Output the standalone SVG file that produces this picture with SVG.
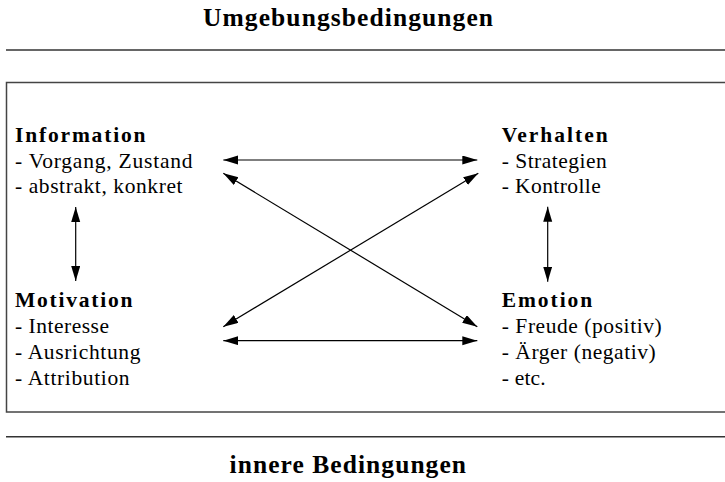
<svg xmlns="http://www.w3.org/2000/svg" width="725" height="482" viewBox="0 0 725 482">
  <style>
    text { font-family: "Liberation Serif", "Times New Roman", serif; fill: #000; }
    .title { font-size: 25.5px; font-weight: bold; }
    .head { font-size: 21.5px; font-weight: bold; }
    .item { font-size: 21.5px; }
    .rule { stroke: #333; stroke-width: 1.5; fill: none; }
    .frame { stroke: #444; stroke-width: 1.5; fill: none; }
    .link { stroke: #000; stroke-width: 1.2; fill: none; marker-start: url(#head); marker-end: url(#head); }
  </style>
  <defs>
    <marker id="head" markerUnits="userSpaceOnUse" markerWidth="16" markerHeight="10" refX="15" refY="4.5" orient="auto-start-reverse">
      <path d="M0,0 L15,4.5 L0,9 Z" fill="#000"/>
    </marker>
  </defs>
  <rect width="725" height="482" fill="#fff"/>

  <!-- outer conditions and framing -->
  <g id="frame">
    <text class="title" x="203" y="26" textLength="290" lengthAdjust="spacing">Umgebungsbedingungen</text>
    <line class="rule" x1="6" y1="50" x2="725" y2="50"/>
    <rect class="frame" x="6.5" y="82.5" width="730" height="329.5"/>
    <line class="rule" x1="6" y1="436.7" x2="725" y2="436.7"/>
    <text class="title" x="229.5" y="473" textLength="236.5" lengthAdjust="spacing">innere Bedingungen</text>
  </g>

  <g id="information">
    <text class="head" x="15" y="142" textLength="130.5" lengthAdjust="spacing">Information</text>
    <text class="item" x="15" y="167.5" textLength="177.5" lengthAdjust="spacing">- Vorgang, Zustand</text>
    <text class="item" x="15" y="193" textLength="167.5" lengthAdjust="spacing">- abstrakt, konkret</text>
  </g>

  <g id="verhalten">
    <text class="head" x="501.7" y="142" textLength="106" lengthAdjust="spacing">Verhalten</text>
    <text class="item" x="501.7" y="167.5" textLength="105" lengthAdjust="spacing">- Strategien</text>
    <text class="item" x="501.7" y="193" textLength="99" lengthAdjust="spacing">- Kontrolle</text>
  </g>

  <g id="motivation">
    <text class="head" x="15" y="307" textLength="117.5" lengthAdjust="spacing">Motivation</text>
    <text class="item" x="15" y="333" textLength="94" lengthAdjust="spacing">- Interesse</text>
    <text class="item" x="15" y="359" textLength="125.5" lengthAdjust="spacing">- Ausrichtung</text>
    <text class="item" x="15" y="385" textLength="114.5" lengthAdjust="spacing">- Attribution</text>
  </g>

  <g id="emotion">
    <text class="head" x="501.7" y="307" textLength="90.5" lengthAdjust="spacing">Emotion</text>
    <text class="item" x="501.7" y="333" textLength="160" lengthAdjust="spacing">- Freude (positiv)</text>
    <text class="item" x="501.7" y="359" textLength="154" lengthAdjust="spacing">- Ärger (negativ)</text>
    <text class="item" x="501.7" y="385" textLength="44" lengthAdjust="spacing">- etc.</text>
  </g>

  <!-- bidirectional relations -->
  <g id="connectors">
    <line class="link" x1="223.3" y1="160" x2="477.3" y2="160"/>
    <line class="link" x1="223.3" y1="340.7" x2="477.3" y2="340.7"/>
    <line class="link" x1="223.3" y1="173.3" x2="477.3" y2="326.7"/>
    <line class="link" x1="223.3" y1="326.7" x2="478.3" y2="173.3"/>
    <line class="link" x1="75.7" y1="207" x2="75.7" y2="281"/>
    <line class="link" x1="547.7" y1="206.7" x2="547.7" y2="281.7"/>
  </g>
</svg>
